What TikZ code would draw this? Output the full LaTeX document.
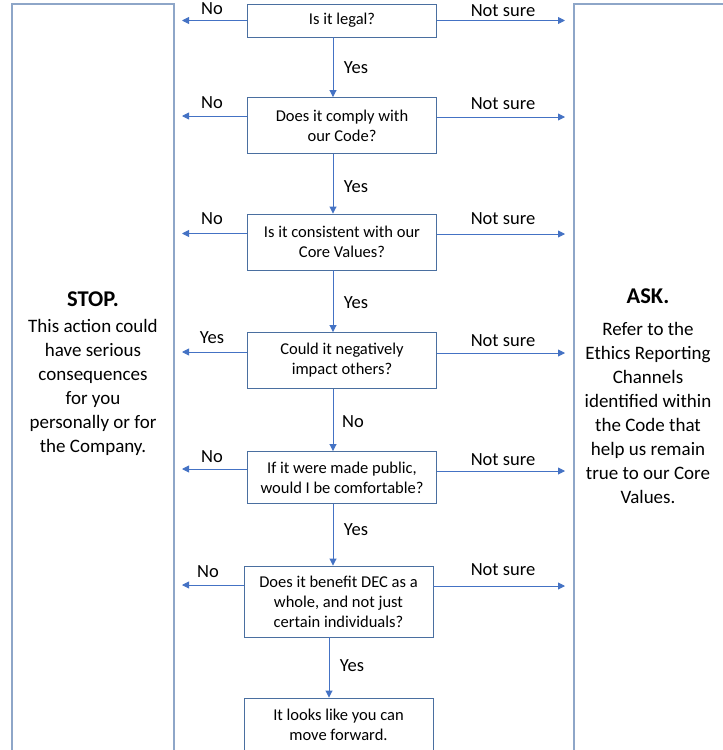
\documentclass[tikz,border=0pt]{standalone}
\usepackage{fontspec}
\setmainfont{Carlito}
\usetikzlibrary{arrows.meta}
\definecolor{boxc}{HTML}{4A6FA0}
\definecolor{arrc}{HTML}{4472C4}
\definecolor{bigc}{HTML}{8EA6C8}
\begin{document}
\begin{tikzpicture}[x=1pt,y=-1pt,
  qbox/.style={draw=boxc, line width=0.9pt, minimum width=189pt, align=center,
    inner sep=0pt, font=\fontsize{16.5}{20}\selectfont},
  bigbox/.style={draw=bigc, line width=1.2pt, minimum width=162pt, minimum height=760pt, inner sep=0pt},
  bigtext/.style={align=center, font=\fontsize{19}{24}\selectfont, inner sep=0pt, anchor=north},
  arr/.style={draw=arrc, line width=0.9pt, -{Triangle[length=7pt,width=7pt]}},
  lab/.style={font=\fontsize{18.5}{22}\selectfont, inner sep=0pt}
]
\useasboundingbox (0,0) rectangle (723,750);
\clip (0,0) rectangle (723,750);

% side boxes
\node[bigbox] (stop) at (93,384) {};
\node[bigbox, minimum width=170pt] (ask) at (659,384) {};
\node[bigtext] (stoptxt) at (93,292) {{\fontsize{22.5}{26}\selectfont\bfseries STOP.}\\[2pt] This action could\\ have serious\\ consequences\\ for you\\ personally or for\\ the Company.};
\node[bigtext] (asktxt) at (648,289) {{\fontsize{22.5}{26}\selectfont\bfseries ASK.}\\[8pt] Refer to the\\ Ethics Reporting\\ Channels\\ identified within\\ the Code that\\ help us remain\\ true to our Core\\ Values.};

% question boxes
\node[qbox, minimum height=33pt] (b1) at (342,20.5) {Is it legal?};
\node[qbox, minimum height=56pt] (b2) at (342,125.5) {Does it comply with\\ our Code?};
\node[qbox, minimum height=56pt] (b3) at (342,242) {Is it consistent with our\\ Core Values?};
\node[qbox, minimum height=56pt] (b4) at (342,360.5) {Could it negatively\\ impact others?};
\node[qbox, minimum height=52pt] (b5) at (342,477.5) {If it were made public,\\ would I be comfortable?};
\node[qbox, minimum height=71pt] (b6) at (338.5,601.5) {Does it benefit DEC as a\\ whole, and not just\\ certain individuals?};
\node[qbox, minimum height=54pt] (b7) at (338.5,725) {It looks like you can\\ move forward.};

% vertical arrows
\draw[arr] ([xshift=-9pt]b1.south) -- ([xshift=-9pt]b2.north);
\draw[arr] ([xshift=-9pt]b2.south) -- ([xshift=-9pt]b3.north);
\draw[arr] ([xshift=-9pt]b3.south) -- ([xshift=-9pt]b4.north);
\draw[arr] ([xshift=-9pt]b4.south) -- ([xshift=-9pt]b5.north);
\draw[arr] ([xshift=-9pt]b5.south) -- ([xshift=-5.5pt]b6.north);
\draw[arr] ([xshift=-9.5pt]b6.south) -- ([xshift=-9.5pt]b7.north);

\node[lab] (y1) at (356,68) {Yes};
\node[lab] (y2) at (356,187) {Yes};
\node[lab] (y3) at (356,303) {Yes};
\node[lab] (y4) at (353,422) {No};
\node[lab] (y5) at (356,530) {Yes};
\node[lab] (y6) at (352,666) {Yes};

% free ends of side arrows
\coordinate (l1) at (182,20.5);
\coordinate (l2) at (182,116);
\coordinate (l3) at (182,233.5);
\coordinate (l4) at (182,352);
\coordinate (l5) at (182,469);
\coordinate (l6) at (182,585);
\coordinate (r1) at (565,20.5);
\coordinate (r2) at (565,117);
\coordinate (r3) at (565,234);
\coordinate (r4) at (565,353);
\coordinate (r5) at (565,471);
\coordinate (r6) at (565,586);

\draw[arr] (b1.west) -- (l1);
\draw[arr] (b2.west |- l2) -- (l2);
\draw[arr] (b3.west |- l3) -- (l3);
\draw[arr] (b4.west |- l4) -- (l4);
\draw[arr] (b5.west |- l5) -- (l5);
\draw[arr] (b6.west |- l6) -- (l6);
\draw[arr] (b1.east) -- (r1);
\draw[arr] (b2.east |- r2) -- (r2);
\draw[arr] (b3.east |- r3) -- (r3);
\draw[arr] (b4.east |- r4) -- (r4);
\draw[arr] (b5.east |- r5) -- (r5);
\draw[arr] (b6.east |- r6) -- (r6);

\node[lab] (n1) at (212,9) {No};
\node[lab] (n2) at (212,103) {No};
\node[lab] (n3) at (212,219) {No};
\node[lab] (n4) at (212,338) {Yes};
\node[lab] (n5) at (212,457) {No};
\node[lab] (n6) at (208,572) {No};

\node[lab] (s1) at (503,11) {Not sure};
\node[lab] (s2) at (503,104) {Not sure};
\node[lab] (s3) at (503,219) {Not sure};
\node[lab] (s4) at (503,341) {Not sure};
\node[lab] (s5) at (503,460) {Not sure};
\node[lab] (s6) at (503,570) {Not sure};
\end{tikzpicture}
\end{document}
